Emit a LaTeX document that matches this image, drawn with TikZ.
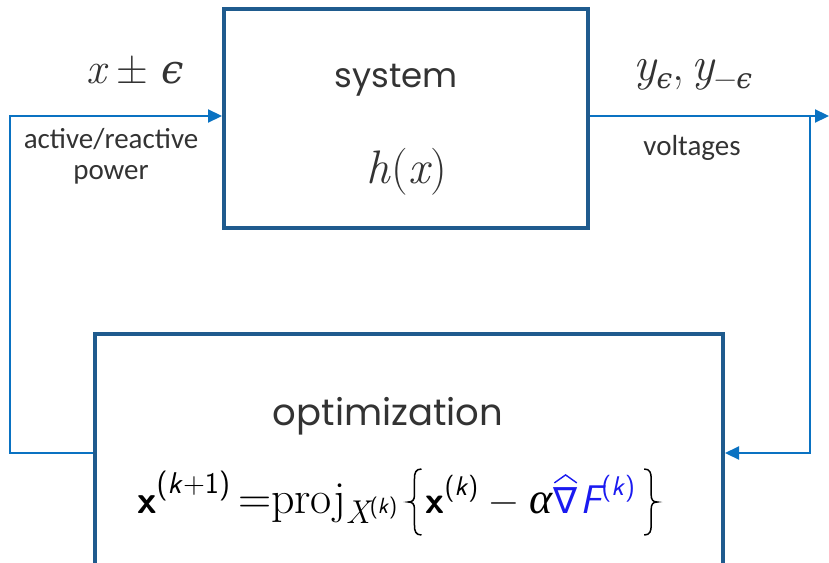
\documentclass[tikz,border=0pt]{standalone}
\usepackage{fontspec}
\newfontfamily\lblfont{Carlito}
\newfontfamily\boxfont{Poppins}
\newfontfamily\dvserif{DejaVu Serif}
\newfontfamily\dvsans{DejaVu Sans}
\newfontfamily\libserif{Liberation Serif}
\usetikzlibrary{arrows.meta,calc}
\definecolor{boxblue}{HTML}{1F5B8E}
\definecolor{linkblue}{HTML}{0A72C2}
\definecolor{txtgray}{HTML}{333333}
\definecolor{gradblue}{HTML}{1A1AF0}
\newcommand{\fsz}[1]{\fontsize{#1}{#1}\selectfont}
\newcommand{\supk}{\raisebox{18pt}{\sffamily\fsz{27}(\textit{k})}}
\begin{document}
\begin{tikzpicture}[x=1pt,y=-1pt,
  blockbox/.style={draw=boxblue,line width=4pt,fill=none},
  link/.style={draw=linkblue,line width=2.2pt},
  linkarrow/.style={link,-{Triangle[length=14pt,width=13pt]}},
  lbl/.style={text=txtgray,font=\lblfont\fontsize{29}{31}\selectfont,align=center},
  boxlbl/.style={text=txtgray,font=\boxfont\fontsize{34}{38}\selectfont},
  mathlbl/.style={text=txtgray,inner sep=0pt,anchor=base},
  fpart/.style={inner sep=0pt,anchor=base west},
  brace/.style={draw=black,line width=1.5pt}]
\useasboundingbox (0,0) rectangle (829,562);
% boxes
\draw[blockbox] (224,9) rectangle (588,228);
\draw[blockbox] (95,334) rectangle (723,566);
\coordinate (sysL) at (222,116);
\coordinate (sysR) at (590,116);
\coordinate (optL) at (93,453);
\coordinate (optR) at (725,453);
\coordinate (tl) at (10,116);
\coordinate (bl) at (10,453);
\coordinate (tr) at (810,116);
\coordinate (br) at (810,453);
\coordinate (outE) at (829,116);
% connectors
\draw[linkarrow] (optL) -- (bl) -- (tl) -- (sysL);
\draw[linkarrow] (sysR) -- (outE);
\draw[linkarrow] (tr) -- (br) -- (optR);
% texts
\node[boxlbl] (systxt) at (396,80) {system};
\node[lbl] (act) at (111,156) {active/reactive\\power};
\node[lbl] (volt) at (692,148) {voltages};
\node[boxlbl,font=\boxfont\fontsize{37}{40}\selectfont] (opttxt) at (388,416) {optimization};
\node[mathlbl] (hx) at (407,183) {\fsz{47}\itshape h\hspace{1pt}\upshape(\hspace{1pt}\itshape x\upshape\hspace{1pt})};
\node[mathlbl] (xin) at (135,83) {\fsz{44}\itshape x\upshape\hspace{10pt}±\hspace{13pt}{\dvserif\itshape\fsz{40}ϵ}};
\node[mathlbl] (yout) at (693,80) {\fsz{48}\itshape y\raisebox{-8pt}{\dvserif\fsz{28}ϵ}\upshape,\hspace{7pt}\itshape y\raisebox{-8pt}{\upshape\fsz{31}−\dvserif\itshape\fsz{28}ϵ}};
% formula
\node[fpart] (fA) at (137,513) {{\sffamily\bfseries\fsz{39}x}\raisebox{20pt}{\sffamily\fsz{30}(\textit{k}+1)}\hspace{8pt}\fsz{46}=proj\raisebox{-10pt}{\fsz{33}\itshape X\raisebox{10pt}{\upshape\sffamily\fsz{22}(\textit{k})}}};
\node[fpart] (fB1) at ($(fA.base east)+(28,0)$) {{\sffamily\bfseries\fsz{38}x}\supk\hspace{11pt}{\fsz{40}−}\hspace{11pt}{\libserif\itshape\fsz{44}α}};
\node[fpart,text=gradblue] (fB2) at ($(fB1.base east)+(1,0)$) {\dvsans\fsz{36}∇};
\node[fpart,text=gradblue] (fB3) at ($(fB2.base east)+(2,0)$) {{\sffamily\itshape\fsz{40}F}\supk};
\begin{scope}[shift={($(fA.base east)+(11,-11)$)}]
  \draw[brace] (13,-33) .. controls (7,-33) and (6,-29) .. (6,-23) -- (6,-7) .. controls (6,-2) and (4,0) .. (0,0) .. controls (4,0) and (6,2) .. (6,7) -- (6,23) .. controls (6,29) and (7,33) .. (13,33);
\end{scope}
\begin{scope}[shift={($(fB3.base east)+(22,-11)$)},xscale=-1]
  \draw[brace] (13,-33) .. controls (7,-33) and (6,-29) .. (6,-23) -- (6,-7) .. controls (6,-2) and (4,0) .. (0,0) .. controls (4,0) and (6,2) .. (6,7) -- (6,23) .. controls (6,29) and (7,33) .. (13,33);
\end{scope}
\draw[draw=gradblue,line width=1.4pt] ($(fB2.north west)+(1,-4)$) -- ($(fB2.north)+(0,-12)$) -- ($(fB2.north east)+(-1,-4)$);
\end{tikzpicture}
\end{document}
